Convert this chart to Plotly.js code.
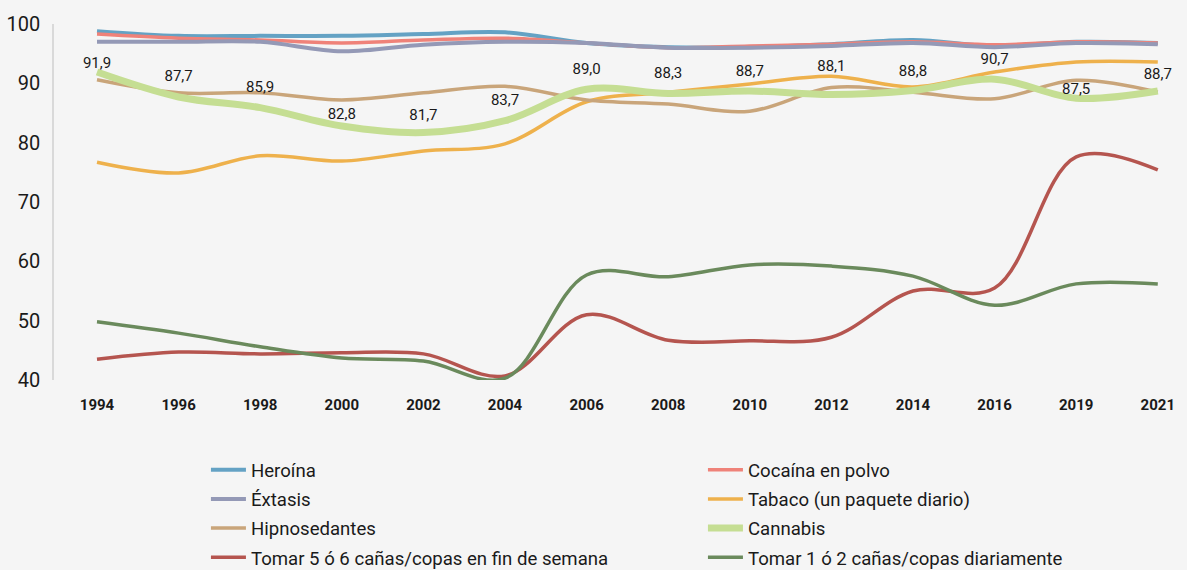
<!DOCTYPE html>
<html>
<head>
<meta charset="utf-8">
<script src="https://cdn.plot.ly/plotly-3.0.1.min.js"></script>
<style>
  html, body { margin: 0; padding: 0; background: #f5f5f5; }
  #chart { width: 1187px; height: 570px; }
</style>
</head>
<body>
<div id="chart"></div>
<script>
// years on the x axis
var years = ['1994', '1996', '1998', '2000', '2002', '2004', '2006', '2008', '2010', '2012', '2014', '2016', '2019', '2021'];

// series values
var heroina = [98.8, 98.0, 98.0, 98.0, 98.3, 98.6, 96.8, 96.1, 96.1, 96.6, 97.3, 96.3, 97.0, 96.8];
var cocaina = [98.3, 97.6, 97.3, 96.8, 97.3, 97.6, 96.8, 96.0, 96.3, 96.6, 97.0, 96.5, 97.0, 96.8];
var extasis = [97.0, 97.0, 97.0, 95.4, 96.5, 97.0, 96.8, 96.0, 96.0, 96.3, 96.8, 96.1, 96.8, 96.6];
var tabaco = [76.7, 74.9, 77.8, 76.9, 78.6, 79.8, 86.9, 88.5, 89.9, 91.2, 89.4, 91.9, 93.6, 93.6];
var hipnosedantes = [90.6, 88.4, 88.4, 87.2, 88.4, 89.5, 87.2, 86.5, 85.3, 89.3, 88.5, 87.4, 90.5, 88.5];
var cannabis = [91.9, 87.7, 85.9, 82.8, 81.7, 83.7, 89.0, 88.3, 88.7, 88.1, 88.8, 90.7, 87.5, 88.7];
var tomar56 = [43.5, 44.7, 44.4, 44.6, 44.4, 40.7, 51.0, 46.7, 46.6, 47.2, 55.0, 55.5, 77.6, 75.4];
var tomar12 = [49.8, 47.9, 45.6, 43.7, 43.2, 40.3, 57.7, 57.4, 59.4, 59.2, 57.5, 52.6, 56.2, 56.2];

// labels shown on the cannabis line
var cannabisLabels = cannabis.map(function (v) { return v.toFixed(1).replace('.', ','); });
// gap between each label and the line (size of an invisible marker)
var labelGap = [0, 18, 17, 3, 12, 18, 17, 17, 16, 30, 16, 17, 0, 12];

// legend column for each series (left / right), as in the reference
function serie(name, y, color, width, leg) {
    return {
        type: 'scatter',
        mode: 'lines',
        x: years,
        y: y,
        name: name,
        legend: leg,
        legendgroup: name,
        line: { color: color, width: width, shape: 'spline', smoothing: 1 },
        hoverinfo: 'x+y+name'
    };
}

// data labels for cannabis, kept out of the legend
var cannabisText = {
    type: 'scatter',
    mode: 'markers+text',
    x: years,
    y: cannabis,
    text: cannabisLabels,
    textposition: 'top center',
    textfont: { family: 'Roboto', size: 15, color: '#1a1a1a' },
    marker: { size: labelGap, opacity: 0 },
    showlegend: false,
    hoverinfo: 'skip'
};

var data = [
    serie('Heroína', heroina, '#64a2c4', 4, 'legend'),
    serie('Cocaína en polvo', cocaina, '#ef8279', 3.5, 'legend2'),
    serie('Éxtasis', extasis, '#9499b6', 4, 'legend'),
    serie('Tabaco (un paquete diario)', tabaco, '#eeb14c', 3.5, 'legend2'),
    serie('Hipnosedantes', hipnosedantes, '#c9a57a', 3.5, 'legend'),
    serie('Cannabis', cannabis, '#c5de93', 7, 'legend2'),
    serie('Tomar 5 ó 6 cañas/copas en fin de semana', tomar56, '#b5554f', 3.5, 'legend'),
    serie('Tomar 1 ó 2 cañas/copas diariamente', tomar12, '#6a8a5c', 3.5, 'legend2'),
    cannabisText
];

var legendBase = {
    orientation: 'v',
    xref: 'container',
    yref: 'container',
    xanchor: 'left',
    yanchor: 'top',
    y: 0.2085,
    itemwidth: 35,
    tracegroupgap: 2,
    bgcolor: 'rgba(0,0,0,0)',
    font: { family: 'Roboto', size: 18.6, color: '#1a1a1a' }
};

var layout = {
    width: 1187,
    height: 570,
    paper_bgcolor: '#f5f5f5',
    plot_bgcolor: '#f5f5f5',
    margin: { l: 54, r: 0, t: 24, b: 190, autoexpand: false },
    font: { family: 'Roboto', color: '#1a1a1a' },
    showlegend: true,
    xaxis: {
        type: 'category',
        range: [-0.527, 13.358],
        showgrid: false,
        zeroline: false,
        showline: false,
        ticks: '',
        ticklabelstandoff: 14,
        tickfont: { family: 'Roboto', size: 15, weight: 'bold', color: '#1a1a1a' }
    },
    yaxis: {
        range: [40, 100],
        dtick: 10,
        showgrid: false,
        zeroline: false,
        showline: true,
        linecolor: '#d9d9d9',
        linewidth: 1.5,
        ticks: '',
        ticklabelstandoff: 8,
        tickfont: { family: 'Roboto', size: 20, color: '#1a1a1a' }
    },
    legend: Object.assign({}, legendBase, { x: 0.1735 }),
    legend2: Object.assign({}, legendBase, { x: 0.5922 })
};

Plotly.newPlot('chart', data, layout, { displayModeBar: false });
</script>
</body>
</html>
